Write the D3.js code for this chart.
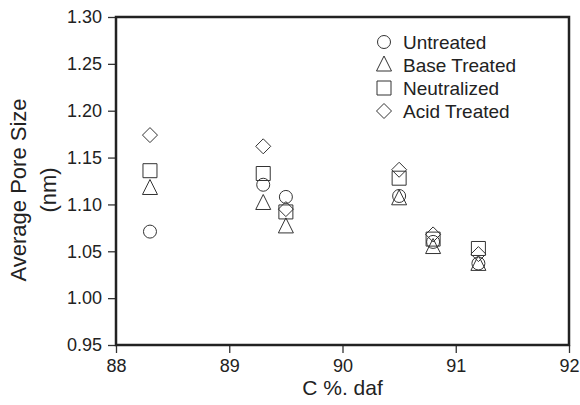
<!DOCTYPE html>
<html><head><meta charset="utf-8">
<script src="https://cdn.jsdelivr.net/npm/d3@7"></script>
<style>body{margin:0;background:#fff}svg{display:block}text{font-family:"Liberation Sans",Arial,sans-serif;fill:#222}</style>
</head><body>
<script>
const xCats = [88.3, 89.3, 89.5, 90.5, 90.8, 91.2];
const untreated = [1.071, 1.121, 1.108, 1.109, 1.060, 1.037];
const baseTreated = [1.117, 1.101, 1.076, 1.106, 1.054, 1.036];
const neutralized = [1.136, 1.133, 1.092, 1.128, 1.063, 1.053];
const acidTreated = [1.174, 1.162, 1.095, 1.137, 1.068, 1.047];
const xTicks = [88, 89, 90, 91, 92];
const yTicks = [0.95, 1.00, 1.05, 1.10, 1.15, 1.20, 1.25, 1.30];
const seriesNames = ["Untreated", "Base Treated", "Neutralized", "Acid Treated"];
const seriesShapes = ["circle", "triangle", "square", "diamond"];

const W = 580, H = 405;
const m = {l: 116, r: 11, t: 17, b: 60};
const svg = d3.select("body").append("svg").attr("width", W).attr("height", H);
const x = d3.scaleLinear().domain([88, 92]).range([m.l, W - m.r]);
const y = d3.scaleLinear().domain([0.95, 1.30]).range([H - m.b, m.t]);
const stroke = "#333";
const FONT = '"Liberation Sans",Arial,sans-serif';

function shapePath(s, cx, cy) {
  const p = d3.path();
  if (s === "circle") { p.moveTo(cx + 6.5, cy); p.arc(cx, cy, 6.5, 0, 2 * Math.PI); p.closePath(); }
  if (s === "square") { p.rect(cx-7, cy-7, 14, 14); }
  if (s === "triangle") { p.moveTo(cx, cy-9); p.lineTo(cx+7.5, cy+6); p.lineTo(cx-7.5, cy+6); p.closePath(); }
  if (s === "diamond") { p.moveTo(cx, cy-7.5); p.lineTo(cx+7.5, cy); p.lineTo(cx, cy+7.5); p.lineTo(cx-7.5, cy); p.closePath(); }
  return p.toString();
}

// axes
const gx = svg.append("g").attr("transform", `translate(0,${H - m.b})`)
  .call(d3.axisBottom(x).tickValues(xTicks).tickFormat(d3.format("d")).tickSize(8).tickPadding(6));
const gy = svg.append("g").attr("transform", `translate(${m.l},0)`)
  .call(d3.axisLeft(y).tickValues(yTicks).tickFormat(d3.format(".2f")).tickSize(8).tickPadding(6));
[gx, gy].forEach(g => {
  g.attr("font-family", FONT).attr("font-size", 18);
  g.select(".domain").remove();
  g.selectAll(".tick line").attr("stroke", stroke).attr("stroke-width", 1.3);
  g.selectAll(".tick text").attr("fill", "#222");
});
// frame
svg.append("rect").attr("x", x(88)).attr("y", y(1.30)).attr("width", x(92) - x(88)).attr("height", y(0.95) - y(1.30))
  .attr("fill", "none").attr("stroke", "#222").attr("stroke-width", 2.5);

// data
const allSeries = [untreated, baseTreated, neutralized, acidTreated];
allSeries.forEach((vals, si) => {
  svg.append("g").selectAll("path").data(vals).join("path")
    .attr("d", (v, i) => shapePath(seriesShapes[si], x(xCats[i]), y(v)))
    .attr("fill", "none").attr("stroke", stroke).attr("stroke-width", 1);
});

// legend
const lg = svg.append("g");
seriesNames.forEach((n, i) => {
  const cy = 42 + i * 23;
  lg.append("path").attr("d", shapePath(seriesShapes[i], 384, cy)).attr("fill", "none").attr("stroke", stroke).attr("stroke-width", 1);
  lg.append("text").attr("x", 403).attr("y", cy + 7).attr("font-size", 19).attr("font-family", FONT).text(n);
});

// titles
svg.append("text").attr("x", (x(88) + x(92)) / 2).attr("y", 395).attr("text-anchor", "middle")
  .attr("font-size", 21).attr("font-family", FONT).text("C %. daf");
const yt = svg.append("text").attr("transform", `translate(26,${(y(0.95)+y(1.30))/2 + 9}) rotate(-90)`)
  .attr("text-anchor", "middle").attr("font-size", 22).attr("font-family", FONT);
yt.append("tspan").attr("x", 0).attr("dy", 0).text("Average Pore Size");
yt.append("tspan").attr("x", 0).attr("dy", 30).text("(nm)");
</script>
</body></html>
